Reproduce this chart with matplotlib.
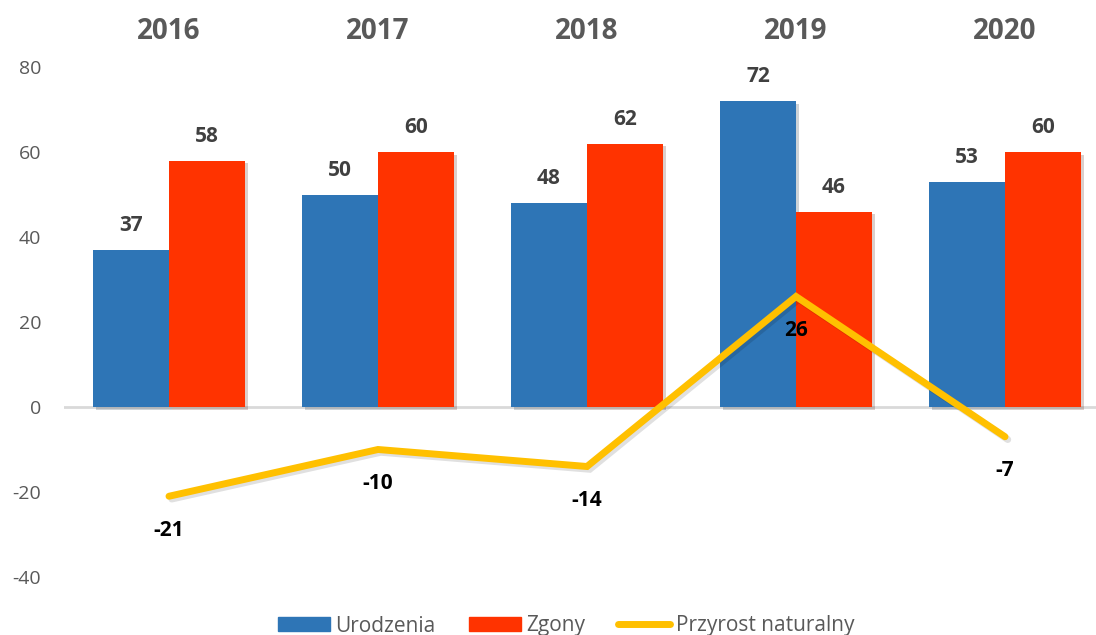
import matplotlib
matplotlib.use("Agg")
import matplotlib.pyplot as plt
import matplotlib.patheffects as pe
from matplotlib.patches import Patch
from matplotlib.lines import Line2D
import numpy as np

years = ["2016", "2017", "2018", "2019", "2020"]
urodzenia = [37, 50, 48, 72, 53]
zgony = [58, 60, 62, 46, 60]
przyrost = [-21, -10, -14, 26, -7]
yticks = [-40, -20, 0, 20, 40, 60, 80]

plt.rcParams['font.family'] = ['Open Sans', 'DejaVu Sans']
plt.rcParams['axes.unicode_minus'] = False

BLUE = "#2E75B6"
RED = "#FF3300"
YEL = "#FFC000"
GRAY = "#595959"

fig = plt.figure(figsize=(10.96, 6.35), dpi=100)
ax = fig.add_axes([64/1096, 1-577/635, 1-64/1096, (577-67)/635])

x = np.arange(len(years))
w = 0.364
shadow = [pe.SimplePatchShadow(offset=(2, -2), alpha=0.2), pe.Normal()]
ax.bar(x - w/2, urodzenia, w, color=BLUE, zorder=3, path_effects=shadow)
ax.bar(x + w/2, zgony, w, color=RED, zorder=3, path_effects=shadow)

ax.axhline(0, color="#D9D9D9", lw=2, zorder=2)

lshadow = [pe.SimpleLineShadow(offset=(2, -2), alpha=0.12), pe.Normal()]
ax.plot(x, przyrost, color=YEL, lw=5, zorder=4, solid_joinstyle='miter',
        solid_capstyle='round', path_effects=lshadow)

for xi, v in zip(x - w/2, urodzenia):
    ax.annotate(str(v), (xi, v), xytext=(0, 13.5), textcoords='offset points',
                ha='center', va='baseline', fontsize=15, fontweight='bold', color="#404040")
for xi, v in zip(x + w/2, zgony):
    ax.annotate(str(v), (xi, v), xytext=(0, 13.5), textcoords='offset points',
                ha='center', va='baseline', fontsize=15, fontweight='bold', color="#404040")
for xi, v in zip(x, przyrost):
    ax.annotate(str(v), (xi, v), xytext=(0, -28.5), textcoords='offset points',
                ha='center', va='baseline', fontsize=15, fontweight='bold', color="black", zorder=5)

ax.set_ylim(-40, 80)
ax.set_yticks(yticks)
ax.set_xlim((64-169)/209, (1096-169)/209)
ax.set_xticks(x)
ax.set_xticklabels(years, fontsize=20, fontweight='bold', color=GRAY)
ax.xaxis.tick_top()
ax.tick_params(axis='x', length=0, pad=15)
ax.tick_params(axis='y', length=0, pad=16.5, labelsize=14, labelcolor=GRAY)
for s in ax.spines.values():
    s.set_visible(False)

handles = [Patch(color=BLUE, label="Urodzenia"), Patch(color=RED, label="Zgony"),
           Line2D([0], [0], color=YEL, lw=5, solid_capstyle='round', label="Przyrost naturalny")]
leg = fig.legend(handles=handles, loc='center', bbox_to_anchor=(566/1096, 1-626/635), ncol=3,
                 frameon=False, fontsize=15, handlelength=2.5, handleheight=0.67,
                 columnspacing=1.6, handletextpad=0.25, borderpad=0, borderaxespad=0)
for t in leg.get_texts():
    t.set_color(GRAY)

fig.savefig("out.png", dpi=100)
